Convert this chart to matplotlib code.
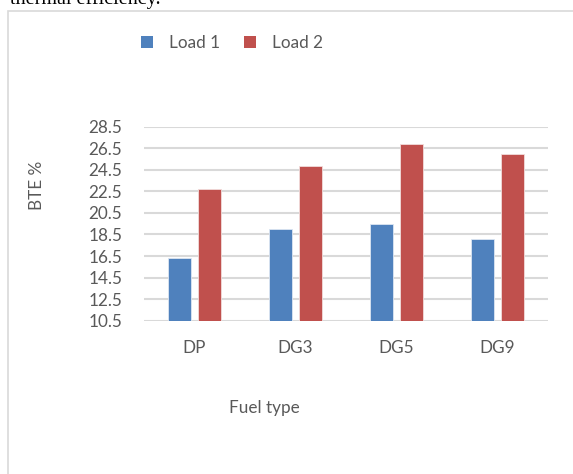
import matplotlib.pyplot as plt
import numpy as np
from matplotlib.patches import Rectangle, Patch

fuel_types = ['DP', 'DG3', 'DG5', 'DG9']
load1 = [16.3, 19.0, 19.5, 18.1]
load2 = [22.7, 24.9, 26.9, 26.0]
y_ticks = [10.5, 12.5, 14.5, 16.5, 18.5, 20.5, 22.5, 24.5, 26.5, 28.5]

W, H = 573, 474
plt.rcParams['font.family'] = ['Lato', 'DejaVu Sans']
grey = '#595959'
blue = '#4f81bd'
red = '#c0504d'
fs = 12.3

fig = plt.figure(figsize=(W / 100, H / 100), dpi=100)

# chart area frame (cut off at right and bottom)
fig.patches.append(Rectangle((8 / W, -0.1), 1.2, 1 - 11 / H + 0.1, transform=fig.transFigure,
                             fill=False, edgecolor='#d9d9d9', linewidth=1.2))

# clipped heading text from the page above
fig.text(10 / W, 1 - 4 / H, 'thermal efficiency.', family='Liberation Serif',
         fontsize=14.5, color='black', va='baseline', ha='left')

ax = fig.add_axes([144 / W, 1 - 320.7 / H, (548 - 144) / W, (320.7 - 126.7) / H])
x = np.arange(len(fuel_types))
off = 0.145
bw = 0.225
ax.bar(x - off, np.array(load1) - 10.5, bw, bottom=10.5, color=blue,
       edgecolor='#dce6f2', linewidth=0.6, zorder=3)
ax.bar(x + off, np.array(load2) - 10.5, bw, bottom=10.5, color=red,
       edgecolor='#f2dcdb', linewidth=0.6, zorder=3)

ax.set_xlim(-0.5, len(fuel_types) - 0.5)
ax.set_ylim(10.5, 28.5)
ax.set_yticks(y_ticks)
ax.set_yticklabels([f'{t:.1f}' for t in y_ticks])
ax.set_xticks(x)
ax.set_xticklabels(fuel_types)
ax.grid(axis='y', color='#d9d9d9', linewidth=1.5, zorder=0)
ax.set_axisbelow(True)
for s in ax.spines.values():
    s.set_visible(False)
ax.tick_params(axis='both', length=0, labelsize=fs, labelcolor=grey)
ax.tick_params(axis='y', pad=15.5)
ax.tick_params(axis='x', pad=14)

fig.text(264 / W, 1 - 408 / H, 'Fuel type', ha='center', va='center', fontsize=fs, color=grey)
fig.text(37 / W, 1 - 185 / H, 'BTE %', ha='center', va='center', rotation=90,
         fontsize=fs, color=grey)

handles = [Patch(facecolor=blue), Patch(facecolor=red)]
fig.legend(handles, ['Load 1', 'Load 2'], loc='center', ncol=2, frameon=False,
           bbox_to_anchor=(232 / W, 1 - 43 / H), handlelength=0.7, handleheight=0.7,
           handletextpad=0.9, columnspacing=1.45, fontsize=fs, labelcolor=grey)

fig.savefig('out.png', dpi=100)
